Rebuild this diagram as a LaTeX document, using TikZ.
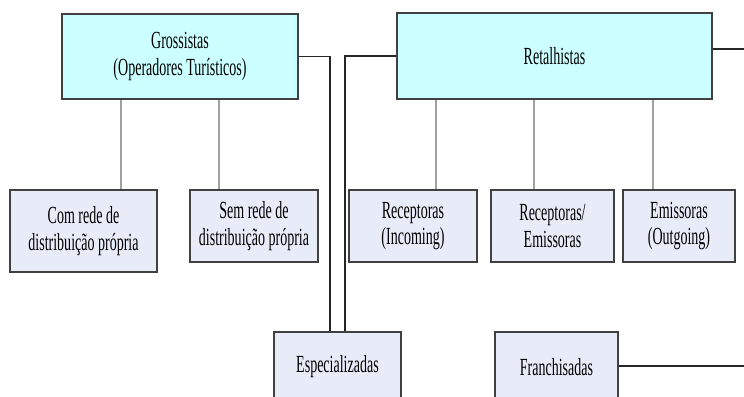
\documentclass[tikz,border=0pt]{standalone}
\usepackage{fontspec}
\setmainfont{Liberation Serif}[FakeStretch=0.57]
\usepackage{tikz}
\usetikzlibrary{calc}

\definecolor{topfill}{RGB}{204,255,255}
\definecolor{subfill}{RGB}{232,236,248}
\definecolor{boxline}{RGB}{64,64,64}
\definecolor{linkgray}{RGB}{160,160,160}

\tikzset{
	box/.style={draw=boxline, line width=0.8pt, inner sep=0pt, align=center,
		text=black, font=\fontsize{14}{15.2}\selectfont},
	topbox/.style={box, fill=topfill},
	subbox/.style={box, fill=subfill},
	link/.style={draw=linkgray, line width=0.6pt},
	tie/.style={draw=black!85, line width=0.8pt}
}

\begin{document}
\begin{tikzpicture}[x=0.02cm, y=-0.02cm]
			%%%%% START %%%%%
			
			\useasboundingbox (0, 0) rectangle (744, 396);
			\clip (0, 0) rectangle (744, 396);
			
			\node[topbox, minimum width=4.72cm, minimum height=1.70cm] (gros) at (180, 56.5) {Grossistas\\(Operadores Turísticos)};
			\node[topbox, minimum width=6.30cm, minimum height=1.72cm] (retal) at (554.5, 56) {Retalhistas};
			
			\node[subbox, minimum width=2.94cm, minimum height=1.64cm] (comrede) at (83.5, 231) {Com rede de\\distribuição própria};
			\node[subbox, minimum width=2.56cm, minimum height=1.44cm] (semrede) at (254, 226) {Sem rede de\\distribuição própria};
			
			\node[subbox, minimum width=2.56cm, minimum height=1.44cm] (incoming) at (413, 226) {Receptoras\\(Incoming)};
			\node[subbox, minimum width=2.46cm, minimum height=1.44cm] (recemi) at (552.5, 226) {Receptoras/\\Emissoras};
			\node[subbox, minimum width=2.24cm, minimum height=1.44cm] (outgoing) at (679, 226) {Emissoras\\(Outgoing)};
			
			\node[subbox, minimum width=2.54cm, minimum height=1.40cm] (espec) at (337.5, 367) {Especializadas};
			\node[subbox, minimum width=2.46cm, minimum height=1.40cm] (franch) at (556.5, 367) {Franchisadas};
			
			\coordinate (retout) at (744, 49);
			\coordinate (franout) at (744, 366);
			
			% grey drops to the sub types
			\draw[link] (gros.south -| 121, 0) -- (comrede.north -| 121, 0);
			\draw[link] (gros.south -| 219, 0) -- (semrede.north -| 219, 0);
			\draw[link] (retal.south -| 436, 0) -- (incoming.north -| 436, 0);
			\draw[link] (retal.south -| 534, 0) -- (recemi.north -| 534, 0);
			\draw[link] (retal.south -| 653, 0) -- (outgoing.north -| 653, 0);
			
			% black ties
			\draw[tie] (gros.east) -| ($(espec.north)+(-7.5, 0)$);
			\draw[tie] (retal.west) -| ($(espec.north)+(7.5, 0)$);
			\draw[tie] (retal.east |- retout) -- (retout);
			\draw[tie] (franch.east |- franout) -- (franout);
			
			%%%%% END %%%%%
		\end{tikzpicture}
\end{document}
